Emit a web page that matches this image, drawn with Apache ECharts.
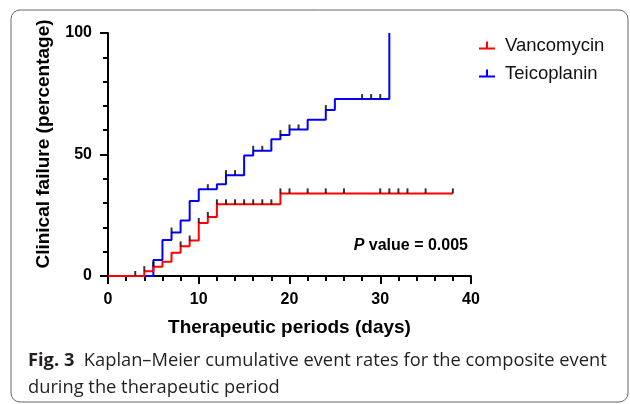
<!DOCTYPE html>
<html>
<head>
<meta charset="utf-8">
<script src="https://cdn.jsdelivr.net/npm/echarts@6/dist/echarts.min.js"></script>
<style>
  html, body { margin: 0; padding: 0; background: #fff; }
  #chart { width: 630px; height: 404px; }
</style>
</head>
<body>
<div id="chart"></div>
<script>
// Kaplan-Meier steps (day, cumulative %)
var vancoDays = [0, 4, 5, 6, 7, 8, 9, 10, 11, 12, 19, 38];
var vancoPct = [0, 2.0, 3.8, 5.9, 9.6, 12.2, 14.6, 21.8, 24.3, 29.5, 34.0, 34.0];
var vancoCensor = [3, 4, 5, 8, 9, 10, 11, 12, 13, 14, 15, 16, 17, 18, 19, 20, 22, 24, 26, 30, 31, 32, 33, 35, 38];

var teicoDays = [0, 5, 6, 7, 8, 9, 10, 12, 13, 15, 16, 18, 19, 20, 22, 24, 25, 31];
var teicoPct = [0, 6.6, 14.8, 17.9, 22.8, 30.9, 35.7, 37.8, 41.5, 49.6, 51.5, 56.3, 58.0, 60.3, 64.3, 68.3, 72.8, 100];
var teicoCensor = [7, 11, 13, 14, 16, 17, 19, 20, 21, 24, 28, 29, 30];

var xTicks = [0, 10, 20, 30, 40];
var yTicks = [0, 50, 100];

var FONT = 'Liberation Sans, Arial, sans-serif';
var CAPFONT = 'Open Sans, Noto Sans, sans-serif';

function pairs(days, vals) {
	return days.map(function (d, i) { return [d, vals[i]]; });
}

// level of a step curve at day t (for placing the censor ticks)
function levelAt(days, vals, t) {
	var v = 0;
	for (var i = 0; i < days.length; i++) {
		if (days[i] <= t) v = vals[i];
	}
	return v;
}

function censorPoints(cDays, days, vals) {
	return cDays.map(function (t) { return [t, levelAt(days, vals, t)]; });
}

var chart = echarts.init(document.getElementById('chart'), null, { renderer: 'canvas' });

var censorStyle = {
	type: 'scatter',
	symbol: 'rect',
	symbolSize: [2, 5],
	symbolOffset: [0, -2.5],
	itemStyle: { color: '#000' },
	silent: true,
	z: 5
};

var option = {
	animation: false,
	backgroundColor: '#fff',
	grid: { left: 108, right: 159, top: 33, bottom: 128, containLabel: false },
	legend: {
		data: ['Vancomycin', 'Teicoplanin'],
		orient: 'vertical',
		left: 479,
		top: 36,
		padding: 0,
		itemWidth: 16,
		itemHeight: 8,
		itemGap: 9,
		icon: 'path://M0,6h16v2h-16z M7,0h2v6h-2z',
		textStyle: { fontFamily: FONT, fontSize: 18.5, color: '#111', padding: [0, 0, 0, 5] }
	},
	xAxis: {
		type: 'value',
		min: xTicks[0],
		max: xTicks[xTicks.length - 1],
		interval: 10,
		name: 'Therapeutic periods (days)',
		nameLocation: 'middle',
		nameGap: 42,
		nameTextStyle: { fontFamily: FONT, fontSize: 19, fontWeight: 'bold', color: '#000' },
		axisLine: { show: true, onZero: false, lineStyle: { color: '#000', width: 2 } },
		axisTick: { show: true, length: 8, lineStyle: { color: '#000', width: 2 } },
		minorTick: { show: true, splitNumber: 5, length: 5, lineStyle: { color: '#000', width: 2 } },
		axisLabel: { fontFamily: FONT, fontSize: 16, fontWeight: 'bold', color: '#000', margin: 16 },
		splitLine: { show: false }
	},
	yAxis: {
		type: 'value',
		min: yTicks[0],
		max: yTicks[yTicks.length - 1],
		interval: 50,
		axisLine: { show: true, lineStyle: { color: '#000', width: 2 } },
		axisTick: { show: true, length: 8, lineStyle: { color: '#000', width: 2 } },
		minorTick: { show: true, splitNumber: 5, length: 5, lineStyle: { color: '#000', width: 2 } },
		axisLabel: { fontFamily: FONT, fontSize: 16, fontWeight: 'bold', color: '#000', margin: 16 },
		splitLine: { show: false }
	},
	series: [
		{
			name: 'Teicoplanin',
			type: 'line',
			step: 'end',
			symbol: 'none',
			data: pairs(teicoDays, teicoPct),
			lineStyle: { color: '#0000ff', width: 2 },
			itemStyle: { color: '#0000ff' },
			z: 2
		},
		{
			name: 'Vancomycin',
			type: 'line',
			step: 'end',
			symbol: 'none',
			data: pairs(vancoDays, vancoPct),
			lineStyle: { color: '#ff0000', width: 2 },
			itemStyle: { color: '#ff0000' },
			z: 3
		},
		Object.assign({ name: 'teicoCensor', data: censorPoints(teicoCensor, teicoDays, teicoPct) }, censorStyle),
		Object.assign({ name: 'vancoCensor', data: censorPoints(vancoCensor, vancoDays, vancoPct) }, censorStyle)
	],
	graphic: [
		{
			type: 'rect',
			shape: { x: 11, y: 10, width: 617, height: 392, r: 9 },
			style: { fill: 'none', stroke: '#666', lineWidth: 1 },
			silent: true
		},
		{
			// y axis title, sits a little above the axis centre in the original
			type: 'text',
			x: 44,
			y: 144,
			rotation: Math.PI / 2,
			style: {
				text: 'Clinical failure (percentage)',
				fontFamily: FONT,
				fontSize: 19,
				fontWeight: 'bold',
				fill: '#000',
				align: 'center',
				verticalAlign: 'middle'
			}
		},
		{
			type: 'text',
			right: 630 - 468,
			top: 238,
			style: {
				text: '{i|P} value = 0.005',
				fontFamily: FONT,
				fontSize: 16,
				fontWeight: 'bold',
				fill: '#000',
				rich: { i: { fontFamily: FONT, fontSize: 16, fontWeight: 'bold', fontStyle: 'italic', fill: '#000' } }
			}
		},
		{
			type: 'text',
			left: 28,
			top: 352,
			style: {
				text: '{b|Fig. 3}  Kaplan\u2013Meier cumulative event rates for the composite event',
				fontFamily: CAPFONT,
				fontSize: 18.3,
				fill: '#231f20',
				rich: { b: { fontFamily: CAPFONT, fontSize: 18.3, fontWeight: 'bold', fill: '#231f20' } }
			}
		},
		{
			type: 'text',
			left: 28,
			top: 379,
			style: {
				text: 'during the therapeutic period',
				fontFamily: CAPFONT,
				fontSize: 18.3,
				fill: '#231f20'
			}
		}
	]
};

chart.setOption(option);
</script>
</body>
</html>
